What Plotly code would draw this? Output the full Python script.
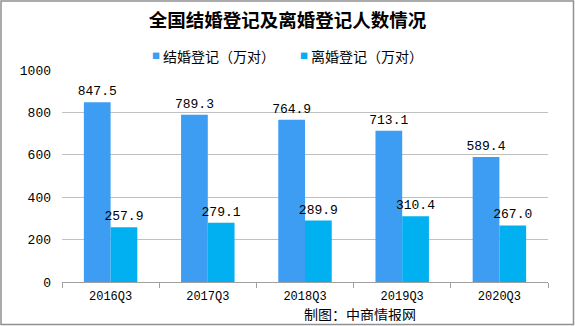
import plotly.graph_objects as go

quarters = ["2016Q3", "2017Q3", "2018Q3", "2019Q3", "2020Q3"]
marriage = [847.5, 789.3, 764.9, 713.1, 589.4]
divorce = [257.9, 279.1, 289.9, 310.4, 267.0]
y_ticks = [0, 200, 400, 600, 800, 1000]
series_names = ["结婚登记（万对）", "离婚登记（万对）"]
series_colors = ["#3d9df3", "#00b0f0"]

W, H = 575, 326
ML, MR, MT, MB = 62, 27, 70, 44
CJK = "Noto Sans CJK SC"
NUM = "Liberation Mono"

fig = go.Figure()
for name, vals, col in zip(series_names, [marriage, divorce], series_colors):
    fig.add_trace(go.Bar(
        x=quarters, y=vals, name=name,
        marker_color=col, marker_line_width=0,
        text=[f"{v:.1f}" for v in vals], textposition="outside",
        constraintext="none",
        textfont=dict(family=NUM, size=13, color="#000000"), cliponaxis=False,
    ))

pw = W - ML - MR
ph = H - MT - MB


def px_x(px):
    return (px - ML) / pw


def px_y(py):
    return (H - MB - py) / ph


fig.update_layout(
    width=W, height=H,
    margin=dict(l=ML, r=MR, t=MT, b=MB),
    paper_bgcolor="#ffffff", plot_bgcolor="#ffffff",
    barmode="group", bargap=0.45, bargroupgap=0,
    title=dict(text="<b>全国结婚登记及离婚登记人数情况</b>", x=0.5, xanchor="center",
               y=1 - 21 / H, yanchor="middle",
               font=dict(family=CJK, size=18.5, color="#000000")),
    showlegend=False,
    font=dict(family=NUM, size=13, color="#000000"),
)
fig.update_xaxes(
    showline=True, linecolor="#a0a0a0", linewidth=1,
    ticks="outside", tickson="boundaries", ticklen=5, tickcolor="#a0a0a0",
    tickfont=dict(family=NUM, size=12, color="#000000"),
    ticklabelstandoff=3, showgrid=False,
)
fig.update_yaxes(
    range=[0, 1000], tickvals=y_ticks, ticktext=[str(v) for v in y_ticks],
    showgrid=True, gridcolor="#c0c0c0", gridwidth=1,
    showline=False, zeroline=False, ticks="", ticklabelstandoff=10,
    tickfont=dict(family=NUM, size=13, color="#000000"),
)

# legend: small coloured square followed by the series name
legend_square_x = [150, 298]
for lx, name, col in zip(legend_square_x, series_names, series_colors):
    fig.add_annotation(
        text="■", xref="paper", yref="paper", x=px_x(lx), y=px_y(56),
        xanchor="left", yanchor="middle", showarrow=False,
        font=dict(family=CJK, size=8, color=col))
    fig.add_annotation(
        text=name, xref="paper", yref="paper", x=px_x(lx + 11), y=px_y(56),
        xanchor="left", yanchor="middle", showarrow=False,
        font=dict(family=CJK, size=14, color="#000000"))

# source note
fig.add_annotation(text="制图：中商情报网", xref="paper", yref="paper",
                   x=px_x(303), y=px_y(313), xanchor="left", yanchor="middle",
                   height=15, valign="middle", borderpad=0,
                   showarrow=False, font=dict(family=CJK, size=14, color="#000000"))

# frame around the whole figure
fig.add_shape(type="rect", xref="paper", yref="paper",
              x0=px_x(1), x1=px_x(W - 1.5), y0=px_y(H - 1.5), y1=px_y(1),
              line=dict(color="#909090", width=1.5), fillcolor="rgba(0,0,0,0)", layer="above")

fig.write_html("out.html")
